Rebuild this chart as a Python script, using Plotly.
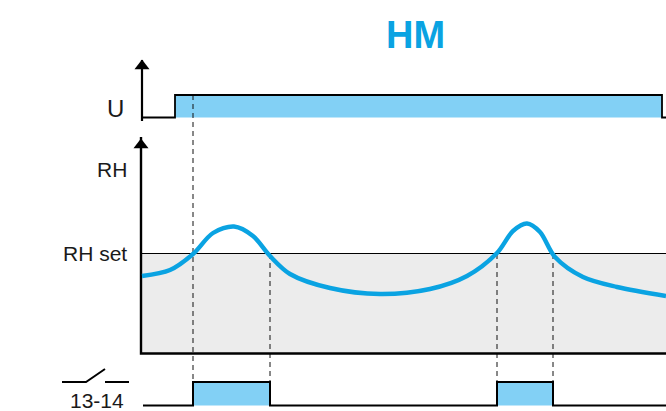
import plotly.graph_objects as go

# Schematic timing-diagram values, in diagram units
TITLE = "HM"
curve_t = [142, 170, 193, 213, 234, 253, 270, 290, 330, 380, 430, 467, 497, 513, 527, 540, 555, 583, 617, 666]
curve_rh = [276, 270, 254, 233, 226.5, 236, 256, 274, 288, 294, 289, 276, 253, 231, 223.5, 232, 257, 277, 287, 296]
rh_set = 253.5
rh_floor = 353.5
t_start = 142
t_end = 666
u_on, u_off = 175, 662
u_low, u_high = 117.5, 95
relay_on = [(193, 270), (497, 553)]
relay_low, relay_high = 405.5, 382
dash_t = [193, 270, 497, 553]
dash_top = [95, 254, 254, 254]
dash_bottom = [405, 382, 382, 382]
BLUE = "#82D0F5"
GREY = "#ECECEC"
CURVE = "#0AA3E2"
FONT = "Liberation Sans, Arial, sans-serif"

fig = go.Figure()

def line(xs, ys, width=2, color="#000", dash=None, fill=None, fillcolor=None):
    fig.add_trace(go.Scatter(x=xs, y=ys, mode="lines" if width else "none",
                             line=dict(color=color, width=width or 0, dash=dash),
                             fill=fill, fillcolor=fillcolor, hoverinfo="skip", showlegend=False))

# grey band
line([t_start, t_end, t_end, t_start, t_start], [rh_set, rh_set, rh_floor, rh_floor, rh_set],
     width=0, fill="toself", fillcolor=GREY)
# U box
line([u_on, u_off, u_off, u_on, u_on], [u_low, u_low, u_high, u_high, u_low],
     width=0, fill="toself", fillcolor=BLUE)
# relay boxes
for a, b in relay_on:
    line([a, b, b, a, a], [relay_low, relay_low, relay_high, relay_high, relay_low],
         width=0, fill="toself", fillcolor=BLUE)

# dashed guides
for t, top, bot in zip(dash_t, dash_top, dash_bottom):
    line([t, t], [top, bot], width=1, color="#111", dash="5px,4px")

# RH set line
line([t_start, t_end], [rh_set, rh_set], width=1)
# U trace
line([142, u_on, u_on, u_off, u_off, t_end], [u_low, u_low, u_high, u_high, u_low, u_low], width=1.8)
# RH axis + floor
line([141, 141, t_end], [137, rh_floor, rh_floor], width=2.4)
# U axis
line([142, 142], [60, 121], width=2.2)
# relay trace
rx = [143]
ry = [relay_low]
for a, b in relay_on:
    rx += [a, a, b, b]
    ry += [relay_low, relay_high, relay_high, relay_low]
rx.append(t_end)
ry.append(relay_low)
line(rx, ry, width=2)
# switch symbol
line([62, 86, 105], [382, 382, 369], width=2)
line([105, 129], [382, 382], width=2)
# arrowheads
fig.add_trace(go.Scatter(x=[142, 141], y=[66, 145], mode="markers",
                         marker=dict(symbol="triangle-up", size=13, color="#000"),
                         hoverinfo="skip", showlegend=False))
# humidity curve
fig.add_trace(go.Scatter(x=curve_t, y=curve_rh, mode="lines",
                         line=dict(color=CURVE, width=4.4, shape="spline", smoothing=0.9),
                         hoverinfo="skip", showlegend=False))

def text(x, y, s, size=20, color="#1a1a1a", bold=False, anchor="center"):
    fig.add_annotation(x=x, y=y, text=f"<b>{s}</b>" if bold else s, showarrow=False,
                       xanchor=anchor, yanchor="middle",
                       font=dict(family=FONT, size=size, color=color))

text(415, 35, TITLE, size=38, color=CURVE, bold=True)
text(115, 108, "U", size=24)
text(112, 169, "RH", size=21)
text(94.5, 253, "RH set", size=21)
text(97, 400, "13-14", size=21)

fig.update_layout(width=666, height=411, margin=dict(l=0, r=0, t=0, b=0),
                  paper_bgcolor="#fff", plot_bgcolor="#fff",
                  xaxis=dict(range=[0, 666], visible=False, fixedrange=True),
                  yaxis=dict(range=[411, 0], visible=False, fixedrange=True))
fig.write_html("out.html", config={"displayModeBar": False},
               post_script="document.body.style.margin='0';document.documentElement.style.overflow='hidden';")
